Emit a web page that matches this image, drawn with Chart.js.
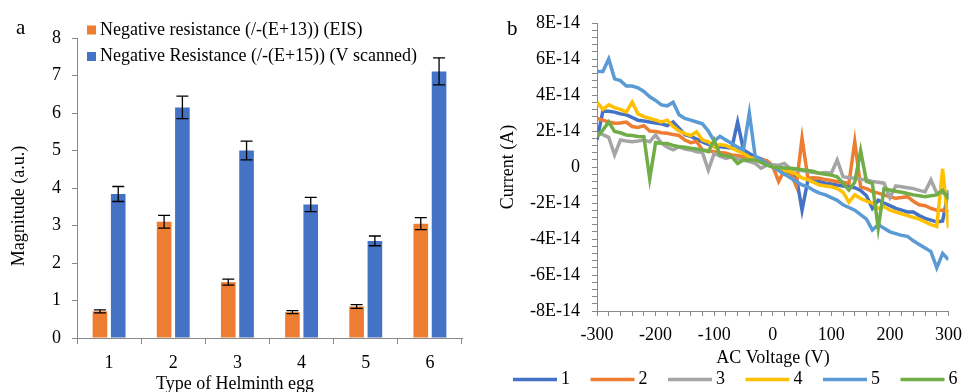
<!DOCTYPE html>
<html>
<head>
<meta charset="utf-8">
<script src="https://cdn.jsdelivr.net/npm/chart.js@4.4.1/dist/chart.umd.min.js"></script>
<style>
  html, body { margin:0; padding:0; background:#fff; width:970px; height:392px; overflow:hidden; }
  #ca { position:absolute; left:0; top:0; }
  #cb { position:absolute; left:490px; top:0; }
</style>
</head>
<body>
<canvas id="ca" width="490" height="392"></canvas>
<canvas id="cb" width="480" height="392"></canvas>
<script>
// ---- panel a: bars with error bars ----
const eggs = ['1','2','3','4','5','6'];
const eisVals  = [0.71, 3.10, 1.49, 0.69, 0.84, 3.05];
const eisErr   = [0.04, 0.17, 0.08, 0.04, 0.05, 0.16];
const scanVals = [3.84, 6.15, 5.00, 3.56, 2.59, 7.11];
const scanErr  = [0.20, 0.30, 0.25, 0.19, 0.13, 0.36];

// ---- panel b: current vs AC voltage (current in units of 1E-14 A) ----
const volts = [-300,-290,-280,-270,-260,-250,-240,-230,-220,-210,
               -200,-190,-180,-170,-160,-150,-140,-130,-120,-110,
               -100,-90,-80,-70,-60,-50,-40,-30,-20,-10,
               0,10,20,30,40,50,60,70,80,90,
               100,110,120,130,140,150,160,170,180,190,
               200,210,220,230,240,250,260,270,280,290,
               300];
const egg1 = [1.5,3.1,3.1,3.05,2.95,2.9,2.75,2.6,2.55,2.5,
              2.45,2.4,2.3,2.5,2.15,1.8,1.7,1.55,1.4,1.25,
              1.13,1.13,1.1,1.04,2.5,0.95,0.75,0.57,0.45,0.3,
              0.1,-0.05,-0.2,-0.35,-0.5,-2.4,-0.72,-0.78,-0.82,-0.9,
              -0.95,-1.0,-1.05,-1.1,-1.15,-1.3,-1.6,-2.3,-1.84,-2.0,
              -2.15,-2.3,-2.4,-2.5,-2.5,-2.7,-2.85,-2.95,-3.05,-3.0,
              -1.3];
const egg2 = [2.7,2.6,2.5,2.43,2.45,2.5,2.25,2.2,2.3,2.0,
              1.97,1.9,1.87,1.8,1.75,1.5,1.35,1.42,0.95,0.9,
              0.85,0.8,0.76,0.67,0.62,0.57,0.5,0.42,0.39,0.35,
              0.05,-0.8,-0.17,-0.3,-1.05,1.6,-0.63,-0.6,-0.63,-0.7,
              -0.75,-0.82,-0.85,-0.91,1.41,-1.1,-1.2,-1.37,-1.45,-1.55,
              -1.65,-1.74,-1.7,-1.65,-1.9,-2.1,-2.15,-2.3,-2.4,-2.4,
              -2.5];
const egg3 = [1.87,1.8,1.65,0.67,1.5,1.45,1.41,1.45,1.5,1.4,
              1.78,1.32,1.1,0.95,1.13,1.0,0.95,0.85,0.8,-0.17,
              0.76,0.6,0.48,0.57,0.45,0.39,0.3,0.2,-0.07,0.1,
              0.12,0.1,0.2,-0.1,-0.17,-0.2,-0.25,-0.3,-0.35,-0.3,
              -0.35,0.39,-0.54,-0.6,-0.63,-0.68,-0.72,-0.8,-0.85,-0.9,
              -1.7,-1.05,-1.1,-1.15,-1.2,-1.3,-1.37,-0.72,-1.45,-1.45,
              -1.37];
const egg4 = [3.6,3.2,3.45,3.3,3.2,3.05,3.6,2.95,2.8,2.7,
              2.6,2.5,2.6,2.25,2.0,1.85,1.75,1.95,1.5,1.4,
              1.1,1.25,1.2,1.05,0.9,0.75,0.55,0.45,0.3,0.15,
              0.0,-0.1,-0.2,-0.26,-0.4,-0.6,-0.7,-0.85,-1.0,-1.05,
              -1.1,-1.2,-1.4,-1.95,-1.55,-1.75,-1.9,-2.0,-2.3,-2.2,
              -2.4,-2.5,-2.6,-2.7,-2.8,-2.9,-3.05,-3.2,-3.3,-0.1,
              -3.4];
const egg5 = [5.3,5.3,6.0,4.9,4.8,4.5,4.5,4.4,4.2,3.9,
              3.7,3.45,3.4,3.6,2.9,2.7,2.6,2.5,2.4,2.0,
              1.45,1.7,1.5,1.3,1.1,0.95,3.0,0.6,0.4,0.2,
              0.0,-0.2,-0.4,-0.6,-0.8,-1.0,-1.1,-1.3,-1.45,-1.55,
              -1.7,-1.85,-2.1,-2.25,-2.4,-2.65,-2.9,-3.5,-3.2,-3.4,
              -3.6,-3.7,-3.8,-3.85,-4.1,-4.3,-4.5,-4.7,-5.6,-4.8,
              -5.15];
const egg6 = [1.7,2.05,2.5,1.97,1.9,1.78,1.75,1.7,1.69,-0.65,
              1.35,1.32,1.3,1.2,1.13,1.1,1.04,1.0,0.95,0.85,
              1.5,0.67,0.62,0.57,0.2,0.39,0.39,0.39,0.25,0.11,
              0.0,-0.03,-0.05,-0.07,-0.1,-0.15,-0.2,-0.25,-0.35,-0.4,
              -0.45,-0.54,-0.91,-1.28,-0.85,0.9,-0.8,-0.91,-3.4,-1.2,
              -1.28,-1.35,-1.4,-1.47,-1.55,-1.6,-1.65,-1.6,-1.55,-1.3,
              -1.8];
const seriesNames = ['1','2','3','4','5','6'];
const seriesColors = ['#4472C4','#ED7D31','#A5A5A5','#FFC000','#5B9BD5','#70AD47'];

const SERIF = '"Liberation Serif", "Times New Roman", serif';
const AXIS = '#898989';
Chart.defaults.font.family = SERIF;
Chart.defaults.font.size = 18;
Chart.defaults.color = '#000';

// error bars drawn on top of the bars
const errorBars = {
  id: 'errorBars',
  afterDatasetsDraw(chart) {
    const g = chart.ctx, y = chart.scales.y;
    g.save();
    g.strokeStyle = '#000';
    g.lineWidth = 1.3;
    chart.data.datasets.forEach((ds, i) => {
      chart.getDatasetMeta(i).data.forEach((bar, j) => {
        const t = y.getPixelForValue(ds.data[j] + ds.err[j]);
        const b = y.getPixelForValue(ds.data[j] - ds.err[j]);
        g.beginPath();
        g.moveTo(bar.x, t); g.lineTo(bar.x, b);
        g.moveTo(bar.x - 6, t); g.lineTo(bar.x + 6, t);
        g.moveTo(bar.x - 6, b); g.lineTo(bar.x + 6, b);
        g.stroke();
      });
    });
    g.restore();
  }
};

const decoA = {
  id: 'decoA',
  afterDraw(chart) {
    const g = chart.ctx;
    g.save();
    g.font = '18px ' + SERIF;
    g.textBaseline = 'middle';
    g.textAlign = 'left';
    chart.data.datasets.forEach((ds, i) => {
      const y = 30 + i * 26.5;
      g.fillStyle = ds.backgroundColor;
      g.fillRect(87, y - 4.5, 9, 9);
      g.fillStyle = '#000';
      g.fillText(ds.label, 100, y);
    });
    g.font = '21px ' + SERIF;
    g.textBaseline = 'alphabetic';
    g.fillText('a', 16, 34);
    g.font = '18px ' + SERIF;
    g.textAlign = 'center';
    g.fillText('Type of Helminth egg', 235, 389);
    g.translate(19.5, 206);
    g.rotate(-Math.PI / 2);
    g.textBaseline = 'middle';
    g.fillText('Magnitude (a.u.)', 0, 0);
    g.restore();
  }
};

new Chart(document.getElementById('ca'), {
  type: 'bar',
  data: {
    labels: eggs,
    datasets: [
      {label: 'Negative resistance (/-(E+13)) (EIS)', data: eisVals, err: eisErr, backgroundColor: '#ED7D31'},
      {label: 'Negative Resistance (/-(E+15)) (V scanned)', data: scanVals, err: scanErr, backgroundColor: '#4472C4'}
    ]
  },
  options: {
    responsive: false, animation: false, events: [],
    categoryPercentage: 0.57, barPercentage: 0.8,
    layout: {padding: {left: 0, top: 38, right: 28, bottom: 0}},
    plugins: {legend: {display: false}, tooltip: {enabled: false}},
    scales: {
      x: {
        afterFit(s) { s.height = 54; },
        grid: {drawOnChartArea: false, tickLength: 6, color: AXIS},
        border: {color: AXIS},
        ticks: {padding: 8, maxRotation: 0}
      },
      y: {
        min: 0, max: 8,
        afterFit(s) { s.width = 77; },
        grid: {drawOnChartArea: false, tickLength: 5, color: AXIS},
        border: {color: AXIS},
        ticks: {stepSize: 1, padding: 11}
      }
    }
  },
  plugins: [errorBars, decoA]
});

// ---- panel b ----
const decoB = {
  id: 'decoB',
  afterDraw(chart) {
    const g = chart.ctx;
    g.save();
    g.font = '18px ' + SERIF;
    g.fillStyle = '#000';
    g.textBaseline = 'middle';
    g.textAlign = 'left';
    chart.data.datasets.forEach((ds, i) => {
      const x = 23 + i * 77.5, y = 379.5;
      g.strokeStyle = ds.borderColor;
      g.lineWidth = 3.5;
      g.beginPath(); g.moveTo(x, y); g.lineTo(x + 44, y); g.stroke();
      g.fillText(ds.label, x + 48, y);
    });
    g.font = '21px ' + SERIF;
    g.textBaseline = 'alphabetic';
    g.fillText('b', 17, 35);
    g.font = '18px ' + SERIF;
    g.textAlign = 'center';
    g.fillText('AC Voltage (V)', 283, 363);
    g.translate(18.5, 167);
    g.rotate(-Math.PI / 2);
    g.textBaseline = 'middle';
    g.fillText('Current (A)', 0, 0);
    g.restore();
  }
};

const curves = [egg1, egg2, egg3, egg4, egg5, egg6];

new Chart(document.getElementById('cb'), {
  type: 'line',
  data: {
    datasets: curves.map((s, i) => ({
      label: seriesNames[i],
      data: volts.map((v, k) => ({x: v, y: s[k]})),
      borderColor: seriesColors[i],
      borderWidth: 3.5,
      pointRadius: 0,
      tension: 0,
      order: 6 - i
    }))
  },
  options: {
    responsive: false, animation: false, events: [],
    layout: {padding: {left: 0, top: 23, right: 15, bottom: 0}},
    plugins: {legend: {display: false}, tooltip: {enabled: false}},
    scales: {
      x: {
        type: 'linear', min: -300, max: 300,
        afterFit(s) { s.height = 81; },
        grid: {drawOnChartArea: false, tickLength: 5, color: AXIS},
        border: {color: AXIS},
        ticks: {stepSize: 20, autoSkip: false, maxRotation: 0, padding: 8,
                callback: v => (v % 100 === 0 ? String(v) : '')}
      },
      y: {
        min: -8, max: 8,
        afterFit(s) { s.width = 107; },
        grid: {drawOnChartArea: false, tickLength: 5, color: AXIS},
        border: {color: AXIS},
        ticks: {stepSize: 0.4, autoSkip: false, padding: 12,
                callback: v => {
                  const r = Math.round(v * 10);
                  if (r % 20 !== 0) return '';
                  return r === 0 ? '0' : (r / 10) + 'E-14';
                }}
      }
    }
  },
  plugins: [decoB]
});
</script>
</body>
</html>
